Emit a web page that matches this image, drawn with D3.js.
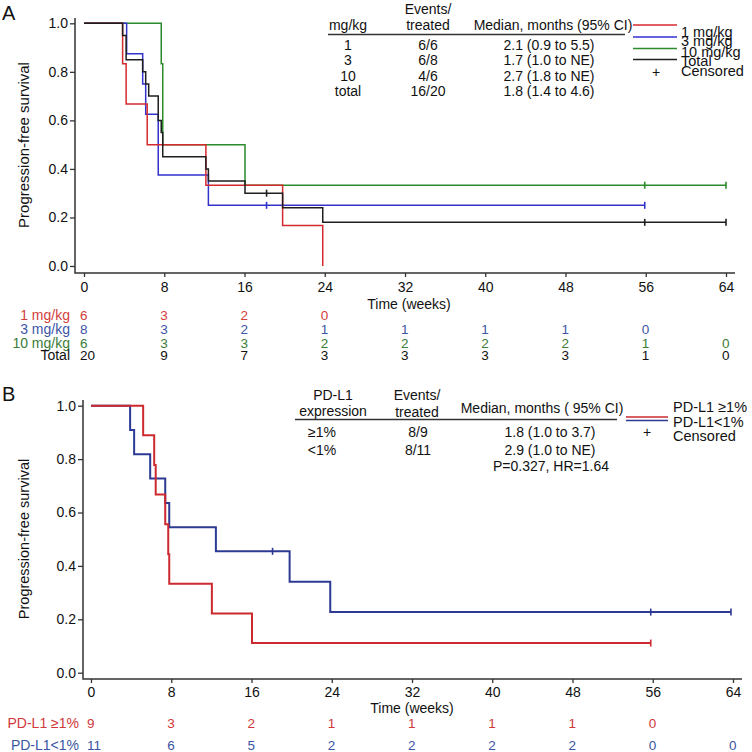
<!DOCTYPE html>
<html><head><meta charset="utf-8">
<script src="https://cdn.jsdelivr.net/npm/d3@7"></script>
<style>body{margin:0;background:#fff} svg{display:block} text{font-family:"Liberation Sans",Arial,Helvetica,sans-serif;fill:#111}</style>
</head><body><svg id="c" width="752" height="752"></svg>
<script>
// ---------- shared ticks ----------
const weekTicks = [0, 8, 16, 24, 32, 40, 48, 56, 64];
const survTicks = [0, 0.2, 0.4, 0.6, 0.8, 1.0];

// ---------- Panel A: by dose ----------
const a1Time = [0, 3.85, 4.2, 6.3, 12.15, 19.8, 23.8];
const a1Surv = [1, 0.833, 0.667, 0.5, 0.333, 0.167, 0];
const a1Cens = [];
const a3Time = [0, 4.25, 5.85, 6.15, 7.4, 12.4, 55.9];
const a3Surv = [1, 0.875, 0.75, 0.625, 0.375, 0.25, 0.25];
const a3Cens = [18.2, 55.9];
const a10Time = [0, 7.7, 7.85, 16.05, 64];
const a10Surv = [1, 0.833, 0.5, 0.333, 0.333];
const a10Cens = [55.9, 64];
const aTotTime = [0, 3.85, 4.2, 5.85, 6.15, 6.45, 7.4, 7.7, 7.85, 12.15, 12.4, 16.05, 19.8, 23.8, 64];
const aTotSurv = [1, 0.95, 0.85, 0.80, 0.75, 0.70, 0.60, 0.55, 0.45, 0.40, 0.35, 0.30, 0.24, 0.18, 0.18];
const aTotCens = [18.2, 55.9, 64];

const riskA1 = [6, 3, 2, 0];
const riskA3 = [8, 3, 2, 1, 1, 1, 1, 0];
const riskA10 = [6, 3, 3, 2, 2, 2, 2, 1, 0];
const riskATot = [20, 9, 7, 3, 3, 3, 3, 1, 0];
const riskLabelsA = ["1 mg/kg", "3 mg/kg", "10 mg/kg", "Total"];

const tableADose = ["1", "3", "10", "total"];
const tableAEvents = ["6/6", "6/8", "4/6", "16/20"];
const tableAMedian = ["2.1 (0.9 to 5.5)", "1.7 (1.0 to NE)", "2.7 (1.8 to NE)", "1.8 (1.4 to 4.6)"];
const legendA = ["1 mg/kg", "3 mg/kg", "10 mg/kg", "Total"];

// ---------- Panel B: by PD-L1 ----------
const bPosTime = [0, 5.2, 6.3, 6.45, 7.4, 7.7, 7.8, 12.05, 16.05, 55.8];
const bPosSurv = [1, 0.889, 0.778, 0.667, 0.556, 0.444, 0.333, 0.222, 0.111, 0.111];
const bPosCens = [55.8];
const bNegTime = [0, 3.9, 4.3, 5.9, 7.4, 7.8, 12.45, 19.8, 23.85, 63.8];
const bNegSurv = [1, 0.909, 0.818, 0.727, 0.636, 0.545, 0.4545, 0.341, 0.227, 0.227];
const bNegCens = [18.1, 55.8, 63.8];
const riskBPos = [9, 3, 2, 1, 1, 1, 1, 0];
const riskBNeg = [11, 6, 5, 2, 2, 2, 2, 0, 0];
const riskLabelsB = ["PD-L1 \u22651%", "PD-L1<1%"];

const tableBExpr = ["\u22651%", "<1%"];
const tableBEvents = ["8/9", "8/11"];
const tableBMedian = ["1.8 (1.0 to 3.7)", "2.9 (1.0 to NE)"];
const tableBStat = "P=0.327, HR=1.64";
const legendB = ["PD-L1 \u22651%", "PD-L1<1%"];

// ---------- colours ----------
const cA = {red: "#d42a2e", blue: "#3232cc", green: "#2b8a2b", black: "#1e1e1e"};
const tA = {red: "#d2403c", blue: "#3d56a6", green: "#3a7c38", black: "#111"};
const cB = {red: "#cc2a2e", blue: "#2c3a94"};
const tB = {red: "#d0383a", blue: "#3a55a2"};

const svg = d3.select("#c");
svg.append("rect").attr("width", 752).attr("height", 752).attr("fill", "#fff");

function levelAt(times, surv, t) {
  const i = Math.max(0, d3.bisectRight(times, t) - 1);
  return surv[i];
}

function drawCurve(g, x, y, times, surv, cens, color, sw) {
  const pts = times.map((t, i) => [t, surv[i]]);
  g.append("path").datum(pts)
    .attr("d", d3.line().x(d => x(d[0])).y(d => y(d[1])).curve(d3.curveStepAfter))
    .attr("fill", "none").attr("stroke", color).attr("stroke-width", sw)
    .attr("stroke-linejoin", "miter");
  g.selectAll(null).data(cens).join("line")
    .attr("x1", d => x(d)).attr("x2", d => x(d))
    .attr("y1", d => y(levelAt(times, surv, d)) - 3.5)
    .attr("y2", d => y(levelAt(times, surv, d)) + 3.5)
    .attr("stroke", color).attr("stroke-width", 1.6);
}

function axes(g, x, y, ax, ay, yTop, xRight, xPad) {
  const ya = g.append("g").attr("transform", `translate(${ax},0)`)
    .call(d3.axisLeft(y).tickValues(survTicks).tickFormat(d3.format(".1f")).tickSize(5).tickPadding(2));
  ya.select(".domain").remove();
  const xa = g.append("g").attr("transform", `translate(0,${ay})`)
    .call(d3.axisBottom(x).tickValues(weekTicks).tickSize(4).tickPadding(xPad));
  xa.select(".domain").remove();
  [ya, xa].forEach(a => {
    a.selectAll("text").attr("font-size", 14).attr("font-family", "Liberation Sans, Arial, sans-serif").attr("fill", "#111");
    a.selectAll("line").attr("stroke", "#333").attr("stroke-width", 1.3);
  });
  g.append("path").attr("d", `M${ax},${yTop}V${ay}H${xRight}`)
    .attr("fill", "none").attr("stroke", "#333").attr("stroke-width", 1.5);
}

function txt(g, x, y, s, opts = {}) {
  return g.append("text").attr("x", x).attr("y", y).text(s)
    .attr("font-size", opts.size || 14)
    .attr("text-anchor", opts.anchor || "middle")
    .style("fill", opts.color || "#111");
}

// ================= Panel A =================
const gA = svg.append("g");
const xA = d3.scaleLinear().domain([0, 64]).range([84, 726]);
const yA = d3.scaleLinear().domain([0, 1]).range([266, 23.3]);
axes(gA, xA, yA, 75, 273, 18, 735, 5);
txt(gA, 2, 20, "A", {size: 20, anchor: "start"});
gA.append("text").attr("transform", "translate(29,145) rotate(-90)").attr("text-anchor", "middle")
  .attr("font-size", 15).style("fill", "#111").text("Progression-free survival");
txt(gA, 409, 309, "Time (weeks)");

drawCurve(gA, xA, yA, a10Time, a10Surv, a10Cens, cA.green, 1.5);
drawCurve(gA, xA, yA, a3Time, a3Surv, a3Cens, cA.blue, 1.5);
drawCurve(gA, xA, yA, a1Time, a1Surv, a1Cens, cA.red, 1.5);
drawCurve(gA, xA, yA, aTotTime, aTotSurv, aTotCens, cA.black, 1.5);

// table A
txt(gA, 348, 30, "mg/kg");
txt(gA, 428, 14, "Events/");
txt(gA, 428, 30, "treated");
txt(gA, 553, 30, "Median, months (95% CI)");
gA.append("line").attr("x1", 328).attr("x2", 625).attr("y1", 34.5).attr("y2", 34.5)
  .attr("stroke", "#333").attr("stroke-width", 1.4);
const rowYA = [50, 65, 80.5, 95.5];
tableADose.forEach((d, i) => {
  txt(gA, 348, rowYA[i], d);
  txt(gA, 428, rowYA[i], tableAEvents[i]);
  txt(gA, 549, rowYA[i], tableAMedian[i]);
});
// legend A
const legLineYA = [25, 37, 48.5, 59.5];
const legTextYA = [36.5, 46, 56.5, 65.5];
const legColA = [cA.red, cA.blue, cA.green, cA.black];
legendA.forEach((d, i) => {
  gA.append("line").attr("x1", 633).attr("x2", 677).attr("y1", legLineYA[i]).attr("y2", legLineYA[i])
    .attr("stroke", legColA[i]).attr("stroke-width", 1.5);
  txt(gA, 681, legTextYA[i], d, {anchor: "start", size: 14.5});
});
txt(gA, 656, 77, "+", {size: 14});
txt(gA, 681, 76, "Censored", {anchor: "start", size: 14.5});

// risk table A
const riskRowsA = [riskA1, riskA3, riskA10, riskATot];
const riskColA = [tA.red, tA.blue, tA.green, tA.black];
const riskYA = [320, 334, 347.5, 360];
riskRowsA.forEach((row, r) => {
  txt(gA, 70, riskYA[r], riskLabelsA[r], {anchor: "end", color: riskColA[r], size: 14});
  row.forEach((v, i) => txt(gA, xA(weekTicks[i]) - 4, riskYA[r], v, {anchor: "start", color: riskColA[r], size: 13.5}));
});

// ================= Panel B =================
const gB = svg.append("g");
const xB = d3.scaleLinear().domain([0, 64]).range([91, 733]);
const yB = d3.scaleLinear().domain([0, 1]).range([672.7, 405.7]);
axes(gB, xB, yB, 83, 679, 400, 742, 4);
txt(gB, 2, 401, "B", {size: 20, anchor: "start"});
gB.append("text").attr("transform", "translate(29,539) rotate(-90)").attr("text-anchor", "middle")
  .attr("font-size", 14.5).style("fill", "#111").text("Progression-free survival");
txt(gB, 412, 713, "Time (weeks)");

drawCurve(gB, xB, yB, bNegTime, bNegSurv, bNegCens, cB.blue, 2);
drawCurve(gB, xB, yB, bPosTime, bPosSurv, bPosCens, cB.red, 2);

// table B
txt(gB, 333, 400, "PD-L1");
txt(gB, 333, 416, "expression");
txt(gB, 417, 400, "Events/");
txt(gB, 417, 416.5, "treated");
txt(gB, 542, 413, "Median, months ( 95% CI)");
gB.append("line").attr("x1", 295).attr("x2", 617).attr("y1", 419.5).attr("y2", 419.5)
  .attr("stroke", "#333").attr("stroke-width", 1.4);
const rowYB = [436.5, 455];
tableBExpr.forEach((d, i) => {
  txt(gB, 322, rowYB[i], d);
  txt(gB, 418, rowYB[i], tableBEvents[i]);
  txt(gB, 550, rowYB[i], tableBMedian[i]);
});
txt(gB, 551, 471, tableBStat);
// legend B
const legLineYB = [417, 420.5];
const legTextYB = [411.5, 426.5];
const legColB = [cB.red, cB.blue];
legendB.forEach((d, i) => {
  gB.append("line").attr("x1", 626).attr("x2", 668).attr("y1", legLineYB[i]).attr("y2", legLineYB[i])
    .attr("stroke", legColB[i]).attr("stroke-width", 1.5);
  txt(gB, 673, legTextYB[i], d, {anchor: "start", size: 14.5});
});
txt(gB, 647, 436.5, "+", {size: 14});
txt(gB, 673, 441, "Censored", {anchor: "start", size: 14.5});

// risk table B
const riskRowsB = [riskBPos, riskBNeg];
const riskColB = [tB.red, tB.blue];
const riskYB = [728, 750];
riskRowsB.forEach((row, r) => {
  txt(gB, 79, riskYB[r], riskLabelsB[r], {anchor: "end", color: riskColB[r]});
  row.forEach((v, i) => txt(gB, xB(weekTicks[i]) - 4, riskYB[r], v, {anchor: "start", color: riskColB[r], size: 13.5}));
});
</script></body></html>
